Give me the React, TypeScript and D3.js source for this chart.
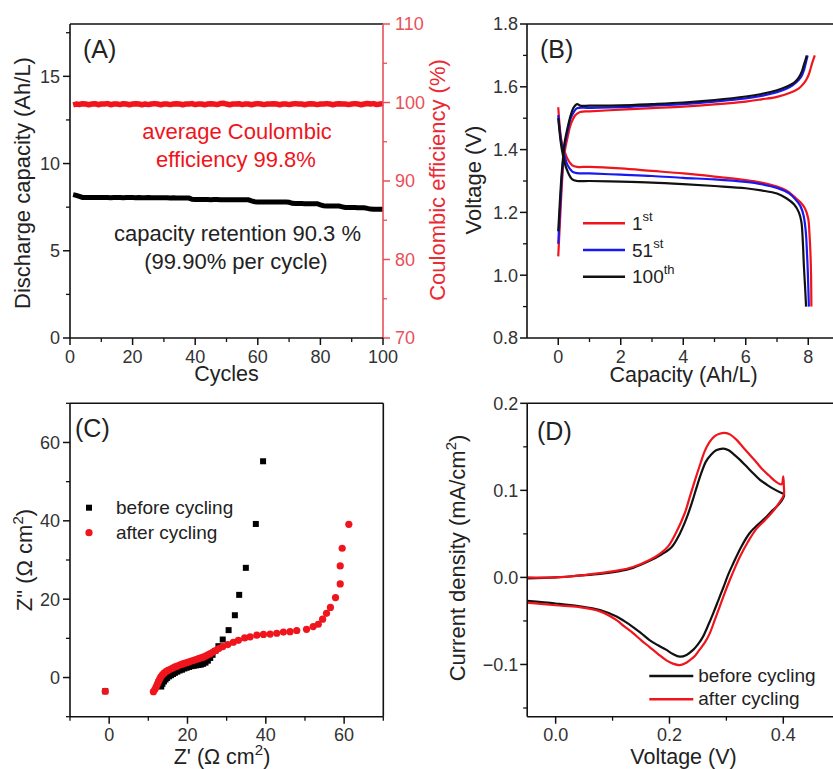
import React from "react";
import * as d3 from "d3";

type Pt = [number, number];

const FONT = "Arial, 'Liberation Sans', Helvetica, sans-serif";
const RED = "#f0141c";
const BLUE = "#1818f0";
const AXRED = "#e8505a";

// ---------------- Panel A data ----------------
const cycleNumbers: number[] = d3.range(1, 101);
const dischargeCapacity: number[] = [
  8.22, 8.18, 8.12, 8.06, 8.05, 8.05, 8.05, 8.05, 8.05, 8.05,
  8.05, 8.05, 8.04, 8.05, 8.05, 8.05, 8.04, 8.05, 8.05, 8.05,
  8.04, 8.05, 8.04, 8.04, 8.05, 8.04, 8.04, 8.04, 8.04, 8.04,
  8.04, 8.03, 8.04, 8.03, 8.03, 8.03, 8.03, 8.02, 7.95, 7.94,
  7.94, 7.94, 7.94, 7.94, 7.93, 7.94, 7.94, 7.93, 7.93, 7.93,
  7.93, 7.93, 7.92, 7.93, 7.92, 7.92, 7.92, 7.86, 7.81, 7.80,
  7.80, 7.80, 7.80, 7.79, 7.80, 7.79, 7.79, 7.79, 7.79, 7.78,
  7.72, 7.71, 7.71, 7.71, 7.70, 7.70, 7.70, 7.70, 7.70, 7.63,
  7.58, 7.57, 7.57, 7.57, 7.56, 7.56, 7.52, 7.48, 7.48, 7.48,
  7.48, 7.47, 7.47, 7.47, 7.43, 7.39, 7.38, 7.38, 7.38, 7.38,
];
const coulombicEff: number[] = [
  99.7, 99.8, 99.75, 99.85, 99.8, 99.72, 99.8, 99.85, 99.72, 99.8,
  99.8, 99.86, 99.72, 99.8, 99.8, 99.73, 99.85, 99.8, 99.72, 99.8,
  99.85, 99.8, 99.72, 99.8, 99.73, 99.8, 99.86, 99.8, 99.72, 99.8,
  99.8, 99.73, 99.8, 99.85, 99.8, 99.72, 99.8, 99.8, 99.86, 99.73,
  99.8, 99.8, 99.72, 99.8, 99.85, 99.8, 99.73, 99.86, 99.9, 99.8,
  99.72, 99.8, 99.8, 99.85, 99.73, 99.8, 99.8, 99.72, 99.8, 99.86,
  99.8, 99.73, 99.8, 99.8, 99.85, 99.8, 99.72, 99.8, 99.8, 99.73,
  99.8, 99.86, 99.8, 99.8, 99.72, 99.8, 99.85, 99.8, 99.73, 99.8,
  99.8, 99.86, 99.8, 99.72, 99.8, 99.85, 99.8, 99.8, 99.73, 99.8,
  99.86, 99.8, 99.72, 99.8, 99.88, 99.8, 99.86, 99.73, 99.8, 99.86,
];
const aXTicks = [0, 20, 40, 60, 80, 100];
const aXMinor = [10, 30, 50, 70, 90];
const aYTicks = [0, 5, 10, 15];
const aYMinor = [2.5, 7.5, 12.5, 17.5];
const aY2Ticks = [70, 80, 90, 100, 110];
const aY2Minor = [75, 85, 95, 105];

// ---------------- Panel B data ----------------
const charge1st: Pt[] = [
  [0, 1.06], [0.05, 1.16], [0.1, 1.26], [0.15, 1.34], [0.2, 1.39], [0.3, 1.44], [0.4, 1.48],
  [0.55, 1.51], [0.7, 1.52], [1, 1.522], [2, 1.527], [3, 1.532], [4, 1.537], [5, 1.544],
  [6, 1.553], [6.5, 1.56], [7, 1.568], [7.4, 1.58], [7.7, 1.595], [7.85, 1.61], [7.95, 1.625],
  [8.02, 1.64], [8.08, 1.66], [8.14, 1.68], [8.21, 1.70],
];
const charge51st: Pt[] = [
  [0, 1.10], [0.05, 1.2], [0.1, 1.29], [0.15, 1.36], [0.2, 1.41], [0.3, 1.46], [0.4, 1.5],
  [0.5, 1.52], [0.6, 1.532], [1, 1.533], [2, 1.535], [3, 1.54], [4, 1.545], [5, 1.553],
  [6, 1.563], [6.5, 1.571], [7, 1.583], [7.3, 1.594], [7.5, 1.605], [7.7, 1.622], [7.8, 1.637],
  [7.87, 1.655], [7.92, 1.675], [7.98, 1.70],
];
const charge100th: Pt[] = [
  [0, 1.14], [0.05, 1.23], [0.1, 1.31], [0.15, 1.37], [0.2, 1.42], [0.3, 1.47], [0.4, 1.51],
  [0.5, 1.535], [0.6, 1.545], [0.7, 1.54], [1, 1.54], [2, 1.541], [3, 1.545], [4, 1.55],
  [5, 1.558], [6, 1.569], [6.5, 1.577], [7, 1.589], [7.3, 1.6], [7.57, 1.615], [7.7, 1.63],
  [7.8, 1.65], [7.86, 1.67], [7.91, 1.685], [7.95, 1.70],
];
const discharge1st: Pt[] = [
  [0, 1.535], [0.05, 1.47], [0.1, 1.43], [0.2, 1.395], [0.3, 1.37], [0.45, 1.35], [0.6, 1.345],
  [1, 1.345], [2, 1.34], [3, 1.332], [4, 1.324], [5, 1.314], [6, 1.303], [6.5, 1.295],
  [7, 1.282], [7.3, 1.27], [7.55, 1.25], [7.75, 1.232], [7.9, 1.212], [8.0, 1.18],
  [8.04, 1.13], [8.07, 1.07], [8.09, 1.0], [8.1, 0.9],
];
const discharge51st: Pt[] = [
  [0, 1.51], [0.05, 1.46], [0.1, 1.42], [0.2, 1.38], [0.3, 1.35], [0.45, 1.33], [0.6, 1.325],
  [1, 1.324], [2, 1.32], [3, 1.316], [4, 1.31], [5, 1.305], [6, 1.297], [6.5, 1.29],
  [7, 1.278], [7.4, 1.26], [7.6, 1.24], [7.75, 1.22], [7.85, 1.19], [7.92, 1.14],
  [7.96, 1.07], [7.99, 1.0], [8.02, 0.9],
];
const discharge100th: Pt[] = [
  [0, 1.50], [0.05, 1.45], [0.1, 1.41], [0.2, 1.36], [0.3, 1.33], [0.45, 1.305], [0.6, 1.30],
  [1, 1.30], [2, 1.298], [3, 1.295], [4, 1.29], [5, 1.284], [6, 1.277], [6.5, 1.27],
  [7, 1.26], [7.3, 1.245], [7.55, 1.225], [7.7, 1.20], [7.78, 1.17], [7.83, 1.1],
  [7.86, 1.03], [7.9, 0.96], [7.93, 0.9],
];
const bXTicks = [0, 2, 4, 6, 8];
const bXMinor = [1, 3, 5, 7];
const bYTicks = [0.8, 1.0, 1.2, 1.4, 1.6, 1.8];
const bYMinor = [0.9, 1.1, 1.3, 1.5, 1.7];

// ---------------- Panel C data ----------------
const eisBefore: Pt[] = [
  [-1, -3.5], [13.3, -2.3], [13.6, -1.6], [14, -1.0], [14.4, -0.5], [14.8, -0.1], [15.3, 0.3],
  [15.8, 0.6], [16.3, 0.9], [16.8, 1.2], [17.4, 1.5], [18, 1.8], [18.6, 2.0], [19.2, 2.3],
  [19.8, 2.5], [20.4, 2.7], [21, 2.9], [21.6, 3.0], [22.2, 3.1], [22.8, 3.2], [23.4, 3.3],
  [24, 3.5], [24.6, 3.8], [25.2, 4.3], [25.8, 5.0], [26.4, 5.8], [27.1, 6.8], [27.9, 8.0],
  [29.0, 9.7], [30.5, 12.1], [32.1, 15.9], [33.2, 21.1], [34.9, 28.0], [37.45, 39.2], [39.3, 55.2],
];
const eisAfter: Pt[] = [
  [-1, -3.5], [11.3, -3.6], [11.7, -3.0], [12.0, -2.4], [12.3, -1.7], [12.6, -1.0], [12.9, -0.4],
  [13.2, 0.2], [13.6, 0.7], [14.0, 1.1], [14.5, 1.5], [15.0, 1.8], [15.6, 2.1], [16.2, 2.4],
  [16.8, 2.7], [17.4, 2.9], [18.0, 3.2], [18.6, 3.4], [19.2, 3.6], [19.8, 3.8], [20.4, 4.0],
  [21.0, 4.2], [21.6, 4.4], [22.2, 4.6], [22.8, 4.8], [23.4, 5.0], [24.0, 5.2], [24.6, 5.5],
  [25.2, 5.8], [25.8, 6.1], [26.5, 6.5], [27.2, 6.9], [28.0, 7.4], [29.0, 7.9], [30.3, 8.4],
  [31.7, 9.0], [33.0, 9.5], [34.6, 10.1], [36.0, 10.4], [37.7, 10.8], [39.4, 11.0], [41.1, 11.1],
  [42.8, 11.3], [44.5, 11.6], [46.2, 11.7], [47.9, 12.0], [50.4, 12.3], [52.1, 13.0], [53.4, 13.6],
  [54.5, 14.9], [55.5, 16.4], [56.5, 17.9], [57.8, 20.4], [59.0, 23.9], [59.0, 28.5], [59.5, 33.0],
  [61.2, 39.1],
];
const cTicks = [0, 20, 40, 60];
const cMinor = [-10, 10, 30, 50, 70];

// ---------------- Panel D data ----------------
const cvBefore: Pt[] = [
  [-0.05, -0.001], [0, 0.0], [0.04, 0.002], [0.078, 0.004], [0.11, 0.007], [0.136, 0.011],
  [0.165, 0.019], [0.185, 0.026], [0.204, 0.035], [0.218, 0.05], [0.23, 0.068], [0.24, 0.087],
  [0.247, 0.102], [0.256, 0.12], [0.264, 0.133], [0.273, 0.141], [0.282, 0.146], [0.295, 0.148],
  [0.304, 0.146], [0.312, 0.142], [0.324, 0.135], [0.336, 0.127], [0.348, 0.119], [0.359, 0.112],
  [0.37, 0.107], [0.382, 0.102], [0.397, 0.097], [0.401, 0.096],
  [0.401, 0.093], [0.391, 0.083], [0.381, 0.077], [0.371, 0.07], [0.356, 0.061], [0.341, 0.051],
  [0.326, 0.035], [0.312, 0.016], [0.303, 0.003], [0.295, -0.011], [0.286, -0.026], [0.277, -0.041],
  [0.268, -0.055], [0.259, -0.068], [0.25, -0.077], [0.242, -0.083], [0.23, -0.089], [0.218, -0.091],
  [0.206, -0.088], [0.194, -0.083], [0.18, -0.078], [0.165, -0.072], [0.15, -0.064], [0.136, -0.057],
  [0.12, -0.05], [0.107, -0.045], [0.078, -0.0375], [0.04, -0.033], [0, -0.03], [-0.05, -0.027],
];
const cvAfter: Pt[] = [
  [-0.05, 0.0], [0, 0.0], [0.04, 0.002], [0.078, 0.005], [0.11, 0.008], [0.136, 0.012],
  [0.165, 0.02], [0.183, 0.027], [0.198, 0.036], [0.212, 0.052], [0.227, 0.074], [0.236, 0.093],
  [0.245, 0.112], [0.254, 0.13], [0.262, 0.145], [0.27, 0.155], [0.279, 0.162], [0.288, 0.165],
  [0.297, 0.166], [0.307, 0.164], [0.318, 0.158], [0.33, 0.149], [0.341, 0.141], [0.353, 0.132],
  [0.365, 0.123], [0.375, 0.117], [0.385, 0.111], [0.397, 0.107], [0.4, 0.116], [0.401, 0.104],
  [0.401, 0.095], [0.392, 0.085], [0.382, 0.076], [0.368, 0.066], [0.353, 0.056], [0.338, 0.041],
  [0.324, 0.024], [0.315, 0.011], [0.306, -0.003], [0.297, -0.018], [0.288, -0.034], [0.279, -0.05],
  [0.271, -0.064], [0.262, -0.075], [0.253, -0.083], [0.245, -0.09], [0.236, -0.095], [0.227, -0.099],
  [0.218, -0.1007], [0.206, -0.099], [0.194, -0.095], [0.18, -0.088], [0.165, -0.08], [0.15, -0.072],
  [0.136, -0.064], [0.12, -0.056], [0.107, -0.049], [0.078, -0.039], [0.04, -0.034], [0, -0.032],
  [-0.05, -0.029],
];
const dXTicks = [0, 0.2, 0.4];
const dXMinor = [0.1, 0.3];
const dYTicks = [-0.1, 0, 0.1, 0.2];
const dYMinor = [-0.15, -0.05, 0.05, 0.15];

// ---------------- helpers ----------------
type Scale = d3.ScaleLinear<number, number>;

function YAxis(p: {
  scale: Scale; x: number; major: number[]; minor: number[]; fmt: (v: number) => string;
  side: "left" | "right"; color: string; textColor: string; labelOff: number;
}) {
  const [r0, r1] = p.scale.range();
  const dir = p.side === "left" ? -1 : 1;
  return (
    <g>
      <line x1={p.x} x2={p.x} y1={r0} y2={r1} stroke={p.color} strokeWidth={1.6} />
      {p.major.map((v) => (
        <line key={"M" + v} x1={p.x} x2={p.x + dir * 7} y1={p.scale(v)} y2={p.scale(v)} stroke={p.color} strokeWidth={1.5} />
      ))}
      {p.minor.map((v) => (
        <line key={"m" + v} x1={p.x} x2={p.x + dir * 4} y1={p.scale(v)} y2={p.scale(v)} stroke={p.color} strokeWidth={1.3} />
      ))}
      {p.major.map((v) => (
        <text key={"t" + v} x={p.x + dir * p.labelOff} y={p.scale(v)} dy="0.36em"
          textAnchor={p.side === "left" ? "end" : "start"} fontSize={18} fill={p.textColor}>
          {p.fmt(v)}
        </text>
      ))}
    </g>
  );
}

function XAxis(p: { scale: Scale; y: number; major: number[]; minor: number[]; fmt: (v: number) => string }) {
  const [r0, r1] = p.scale.range();
  return (
    <g>
      <line x1={r0} x2={r1} y1={p.y} y2={p.y} stroke="#111" strokeWidth={1.6} />
      {p.major.map((v) => (
        <line key={"M" + v} x1={p.scale(v)} x2={p.scale(v)} y1={p.y} y2={p.y + 7} stroke="#111" strokeWidth={1.5} />
      ))}
      {p.minor.map((v) => (
        <line key={"m" + v} x1={p.scale(v)} x2={p.scale(v)} y1={p.y} y2={p.y + 4} stroke="#111" strokeWidth={1.3} />
      ))}
      {p.major.map((v) => (
        <text key={"t" + v} x={p.scale(v)} y={p.y + 24.5} textAnchor="middle" fontSize={18} fill="#333">
          {p.fmt(v)}
        </text>
      ))}
    </g>
  );
}

function VTitle(p: { x: number; y: number; color?: string; children: React.ReactNode }) {
  return (
    <text transform={`translate(${p.x},${p.y}) rotate(-90)`} textAnchor="middle" fontSize={22} fill={p.color || "#222"}>
      {p.children}
    </text>
  );
}

export default function App() {
  // Panel A scales
  const aX = d3.scaleLinear().domain([0, 100]).range([70, 383]);
  const aY = d3.scaleLinear().domain([0, 18]).range([338, 24]);
  const aY2 = d3.scaleLinear().domain([70, 110]).range([338, 24]);
  // Panel B
  const bX = d3.scaleLinear().domain([-1, 9]).range([527, 839.5]);
  const bY = d3.scaleLinear().domain([0.8, 1.8]).range([338, 24]);
  // Panel C
  const cX = d3.scaleLinear().domain([-10, 70]).range([70, 383.3]);
  const cY = d3.scaleLinear().domain([-10, 70]).range([716.7, 403.3]);
  // Panel D
  const dX = d3.scaleLinear().domain([-0.05, 0.5]).range([527.2, 840.2]);
  const dY = d3.scaleLinear().domain([-0.16, 0.2]).range([716.7, 403.3]);

  const capLine = d3.line<number>().x((_, i) => aX(cycleNumbers[i])).y((d) => aY(d));
  const ceLine = d3.line<number>().x((_, i) => aX(cycleNumbers[i])).y((d) => aY2(d));
  const bLine = d3.line<Pt>().x((d) => bX(d[0])).y((d) => bY(d[1])).curve(d3.curveCatmullRom.alpha(0.5));
  const dLine = d3.line<Pt>().x((d) => dX(d[0])).y((d) => dY(d[1])).curve(d3.curveCatmullRom.alpha(0.5));

  const fmtInt = (v: number) => String(v);
  const fmt1 = (v: number) => d3.format(".1f")(v);

  const bSeries: { charge: Pt[]; discharge: Pt[]; color: string }[] = [
    { charge: charge1st, discharge: discharge1st, color: RED },
    { charge: charge51st, discharge: discharge51st, color: BLUE },
    { charge: charge100th, discharge: discharge100th, color: "#111" },
  ];

  return (
    <svg width={833} height={769} style={{ position: "absolute", left: 0, top: 0, background: "#fff" }} fontFamily={FONT}>
      <rect x={0} y={0} width={833} height={769} fill="#fff" />

      {/* ================= Panel A ================= */}
      <line x1={70} x2={383} y1={24} y2={24} stroke="#111" strokeWidth={1.6} />
      <path d={ceLine(coulombicEff) || ""} fill="none" stroke={RED} strokeWidth={5.5} strokeLinejoin="round" />
      <path d={capLine(dischargeCapacity) || ""} fill="none" stroke="#000" strokeWidth={5} strokeLinejoin="miter" />
      <YAxis scale={aY} x={70} major={aYTicks} minor={aYMinor} fmt={fmtInt} side="left" color="#111" textColor="#333" labelOff={10} />
      <YAxis scale={aY2} x={383} major={aY2Ticks} minor={aY2Minor} fmt={fmtInt} side="right" color={AXRED} textColor={AXRED} labelOff={12} />
      <XAxis scale={aX} y={338} major={aXTicks} minor={aXMinor} fmt={fmtInt} />
      <text x={83} y={58} fontSize={25} fill="#222">(A)</text>
      <text x={237} y={139} textAnchor="middle" fontSize={22} fill={RED}>average Coulombic</text>
      <text x={236} y={166.5} textAnchor="middle" fontSize={22} fill={RED}>efficiency 99.8%</text>
      <text x={237.5} y={240.5} textAnchor="middle" fontSize={22} fill="#222">capacity retention 90.3 %</text>
      <text x={236} y={269} textAnchor="middle" fontSize={22} fill="#222">(99.90% per cycle)</text>
      <text x={226.5} y={381} textAnchor="middle" fontSize={21.5} fill="#222">Cycles</text>
      <VTitle x={30} y={183}>Discharge capacity (Ah/L)</VTitle>
      <VTitle x={445} y={180} color="#ea2a34">Coulombic efficiency (%)</VTitle>

      {/* ================= Panel B ================= */}
      <line x1={527} x2={840} y1={24} y2={24} stroke="#111" strokeWidth={1.6} />
      {bSeries.map((s, i) => (
        <g key={"b" + i}>
          <path d={bLine(s.charge) || ""} fill="none" stroke={s.color} strokeWidth={2.2} />
          <path d={bLine(s.discharge) || ""} fill="none" stroke={s.color} strokeWidth={2.2} />
        </g>
      ))}
      <YAxis scale={bY} x={527} major={bYTicks} minor={bYMinor} fmt={fmt1} side="left" color="#111" textColor="#333" labelOff={9} />
      <XAxis scale={bX} y={338} major={bXTicks} minor={bXMinor} fmt={fmtInt} />
      <text x={540} y={58} fontSize={25} fill="#222">(B)</text>
      {/* legend B */}
      <line x1={583} x2={625} y1={223.3} y2={223.3} stroke={RED} strokeWidth={2.5} />
      <line x1={583} x2={625} y1={250} y2={250} stroke={BLUE} strokeWidth={2.5} />
      <line x1={583} x2={625} y1={276.7} y2={276.7} stroke="#111" strokeWidth={2.5} />
      <text x={632} y={230} fontSize={19} fill="#222">1<tspan fontSize={13} dy={-9}>st</tspan></text>
      <text x={632} y={256.7} fontSize={19} fill="#222">51<tspan fontSize={13} dy={-9}>st</tspan></text>
      <text x={632} y={283.3} fontSize={19} fill="#222">100<tspan fontSize={13} dy={-9}>th</tspan></text>
      <text x={683.5} y={382} textAnchor="middle" fontSize={21.5} fill="#222">Capacity (Ah/L)</text>
      <VTitle x={481} y={180}>Voltage (V)</VTitle>

      {/* ================= Panel C ================= */}
      <line x1={70} x2={383.3} y1={403.3} y2={403.3} stroke="#111" strokeWidth={1.6} />
      <line x1={383.3} x2={383.3} y1={403.3} y2={716.7} stroke="#111" strokeWidth={1.6} />
      {eisBefore.map((d, i) => (
        <rect key={"cb" + i} x={cX(d[0]) - 3} y={cY(d[1]) - 3} width={6} height={6} fill="#000" />
      ))}
      {eisAfter.map((d, i) => (
        <circle key={"ca" + i} cx={cX(d[0])} cy={cY(d[1])} r={3.6} fill={RED} />
      ))}
      <YAxis scale={cY} x={70} major={cTicks} minor={cMinor} fmt={fmtInt} side="left" color="#111" textColor="#333" labelOff={10} />
      <XAxis scale={cX} y={716.7} major={cTicks} minor={cMinor} fmt={fmtInt} />
      <text x={75} y={436.7} fontSize={25} fill="#222">(C)</text>
      <rect x={86} y={504.7} width={6} height={6} fill="#000" />
      <circle cx={89} cy={532.7} r={3.6} fill={RED} />
      <text x={116} y={514.3} fontSize={19} fill="#222">before cycling</text>
      <text x={116} y={539.3} fontSize={19} fill="#222">after cycling</text>
      <text x={222} y={764} textAnchor="middle" fontSize={21.5} fill="#222">
        Z' (Ω cm<tspan fontSize={15} dy={-9}>2</tspan><tspan dy={9}>)</tspan>
      </text>
      <VTitle x={31.5} y={560}>
        {'Z" (Ω cm'}<tspan fontSize={15} dy={-9}>2</tspan><tspan dy={9}>)</tspan>
      </VTitle>

      {/* ================= Panel D ================= */}
      <line x1={527.2} x2={840} y1={403.3} y2={403.3} stroke="#111" strokeWidth={1.6} />
      <path d={dLine(cvBefore) || ""} fill="none" stroke="#111" strokeWidth={2.2} />
      <path d={dLine(cvAfter) || ""} fill="none" stroke={RED} strokeWidth={2.2} />
      <YAxis scale={dY} x={527.2} major={dYTicks} minor={dYMinor} fmt={fmt1} side="left" color="#111" textColor="#333" labelOff={9} />
      <XAxis scale={dX} y={716.7} major={dXTicks} minor={dXMinor} fmt={fmt1} />
      <text x={537} y={440} fontSize={25} fill="#222">(D)</text>
      <line x1={649.3} x2={693.3} y1={676} y2={676} stroke="#111" strokeWidth={2.5} />
      <line x1={649.3} x2={693.3} y1={699.3} y2={699.3} stroke={RED} strokeWidth={2.5} />
      <text x={698.3} y={682} fontSize={19} fill="#222">before cycling</text>
      <text x={698.3} y={705.3} fontSize={19} fill="#222">after cycling</text>
      <text x={683.5} y={764} textAnchor="middle" fontSize={21.5} fill="#222">Voltage (V)</text>
      <VTitle x={465} y={558}>
        Current density (mA/cm<tspan fontSize={15} dy={-9}>2</tspan><tspan dy={9}>)</tspan>
      </VTitle>
    </svg>
  );
}
